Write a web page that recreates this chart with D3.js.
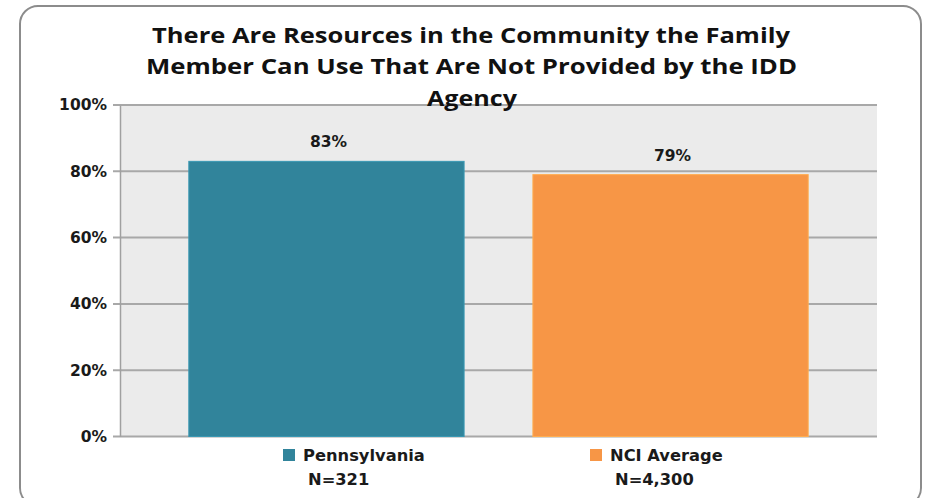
<!DOCTYPE html>
<html><head><meta charset="utf-8">
<script src="https://cdn.jsdelivr.net/npm/d3@7"></script>
<style>body{margin:0;background:#fff}svg{display:block}</style>
</head><body><svg id="c" width="925" height="498"></svg>
<script>
const categories = ["Pennsylvania", "NCI Average"];
const sampleSizes = ["N=321", "N=4,300"];
const values = [0.83, 0.79];
const yTicks = [0, 0.2, 0.4, 0.6, 0.8, 1.0];
const titleLines = ["There Are Resources in the Community the Family", "Member Can Use That Are Not Provided by the IDD", "Agency"];
const colors = ["#31849B", "#F79646"];

const svg = d3.select("#c");
svg.append("rect").attr("x", 20).attr("y", 6).attr("width", 901).attr("height", 500)
  .attr("rx", 18).attr("fill", "#fff").attr("stroke", "#8c8c8c").attr("stroke-width", 2);

const L = 120, R = 877, T = 105, B = 436.5;
const x = d3.scaleBand().domain(categories).range([L, R]).paddingInner(0.2).paddingOuter(0.2);
const y = d3.scaleLinear().domain([0, 1]).range([B, T]);

svg.append("rect").attr("x", L).attr("y", T).attr("width", R - L).attr("height", B - T).attr("fill", "#EBEBEB");

// gridlines
svg.append("g").selectAll("line").data(yTicks).join("line")
  .attr("x1", L - 7).attr("x2", R).attr("y1", d => y(d)).attr("y2", d => y(d))
  .attr("stroke", "#A8A8A8").attr("stroke-width", 2);

// y axis
const yAxis = d3.axisLeft(y).tickValues(yTicks).tickFormat(d3.format(".0%")).tickSize(0).tickPadding(13);
const gy = svg.append("g").attr("transform", `translate(${L},0)`).call(yAxis);
gy.select(".domain").attr("stroke", "#A0A0A0").attr("stroke-width", 1.5);
gy.selectAll("text").attr("font-family", "DejaVu Sans").attr("font-weight", "bold")
  .attr("font-size", 15.5).attr("fill", "#1a1a1a");

// bars
svg.append("g").selectAll("rect").data(values).join("rect")
  .attr("x", (d, i) => x(categories[i])).attr("width", x.bandwidth())
  .attr("y", d => y(d)).attr("height", d => B - y(d))
  .attr("fill", (d, i) => colors[i]).attr("stroke", (d, i) => d3.color(colors[i]).brighter(0.4)).attr("stroke-width", 1);

// data labels
svg.append("g").selectAll("text").data(values).join("text")
  .attr("x", (d, i) => x(categories[i]) + x.bandwidth() / 2 + 2)
  .attr("y", d => y(d) - 14)
  .attr("text-anchor", "middle").attr("font-family", "DejaVu Sans").attr("font-weight", "bold")
  .attr("font-size", 15.5).attr("fill", "#1a1a1a")
  .text(d => d3.format(".0%")(d));

// title
const tl = [{x: 471, y: 42.5, w: 638}, {x: 471.5, y: 74, w: 651}, {x: 472, y: 105.5, w: 90}];
svg.append("g").selectAll("text").data(titleLines).join("text")
  .attr("x", (d, i) => tl[i].x).attr("y", (d, i) => tl[i].y)
  .attr("text-anchor", "middle").attr("font-family", "Open Sans").attr("font-weight", "bold")
  .attr("font-size", 22).attr("fill", "#111")
  .attr("textLength", (d, i) => tl[i].w).attr("lengthAdjust", "spacingAndGlyphs")
  .text(d => d);

// legend
const legX = [283, 590];
const lg = svg.append("g").selectAll("g").data(categories).join("g")
  .attr("transform", (d, i) => `translate(${legX[i]},0)`);
lg.append("rect").attr("x", 0).attr("y", 449).attr("width", 12).attr("height", 12)
  .attr("fill", (d, i) => colors[i]);
lg.append("text").attr("x", 20).attr("y", 461).attr("font-family", "DejaVu Sans").attr("font-weight", "bold")
  .attr("font-size", 16.3).attr("fill", "#1a1a1a").text(d => d);
lg.append("text").attr("x", 25).attr("y", 485).attr("font-family", "DejaVu Sans").attr("font-weight", "bold")
  .attr("font-size", 16.3).attr("fill", "#1a1a1a").text((d, i) => sampleSizes[i]);
</script></body></html>
